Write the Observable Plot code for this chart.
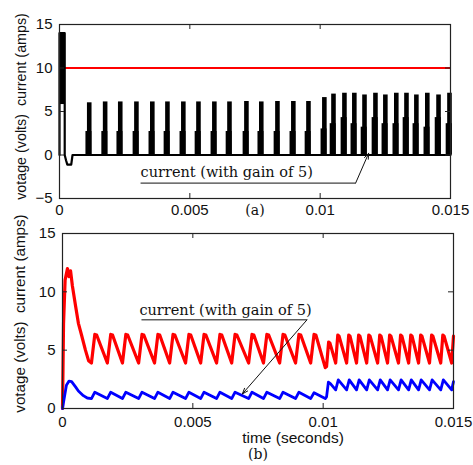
<!DOCTYPE html>
<html><head><meta charset="utf-8">
<script src="https://cdn.jsdelivr.net/npm/d3@7"></script>
<script src="https://cdn.jsdelivr.net/npm/@observablehq/plot@0.6"></script>
<style>
html,body{margin:0;padding:0;background:#fff;}
#chart svg{display:block;}
</style></head><body><div id="chart"></div>
<script>
// ---------- data ----------
const xTicks = [0, 0.005, 0.01, 0.015];
const xTickLabels = ["0", "0.005", "0.01", "0.015"];
const yTicksA = [-5, 0, 5, 10, 15];
const yTicksB = [0, 5, 10, 15];
const yLabel = "votage (volts)  current (amps)";
const xLabelB = "time (seconds)";
const panelA = "(a)";
const panelB = "(b)";
const annLabel = "current (with gain of 5)";

// panel (a): voltage reference level (red)
const refLevel = [10];
// panel (a): current pulses (black)
const pulseT = [0.00111, 0.00172, 0.00230, 0.00292, 0.00353, 0.00411, 0.00472, 0.00530, 0.00591, 0.00649,
  0.00714, 0.00771, 0.00833, 0.00894, 0.00952, 0.01013, 0.01048, 0.01090, 0.01128, 0.01167,
  0.01209, 0.01247, 0.01289, 0.01328, 0.01366, 0.01408, 0.01451, 0.01493];
const pulseH = [6.0, 6.1, 6.1, 6.1, 6.1, 6.1, 6.1, 6.1, 6.1, 6.1,
  6.15, 6.1, 6.15, 6.15, 6.15, 6.6, 7.0, 7.1, 7.1, 6.9,
  7.1, 6.9, 7.1, 7.1, 6.9, 7.1, 6.9, 7.1];
const pulseStep = [2.7, 2.7, 2.7, 2.7, 2.7, 2.7, 2.7, 2.7, 2.7, 2.7,
  2.7, 2.7, 2.7, 2.7, 2.7, 3.0, 3.6, 4.3, 3.6, 3.2,
  4.3, 3.6, 3.6, 4.3, 3.6, 3.2, 4.3, 3.6];
// panel (a): start-up spike and baseline of current
const spikeT = [0, 0, 0.0002, 0.0002, 0.00025, 0.0003, 0.00045, 0.0005, 0.015];
const spikeV = [0, 14, 14, 0, -0.6, -1.1, -1.1, 0, 0];
const spikeFillT = [0, 0.0002];
const spikeFillV = [5.8, 14];

// panel (b): voltage (red)
const redT = [0, 0.00002, 0.00004, 0.0001, 0.00019, 0.00025, 0.00031, 0.00038, 0.0005, 0.00061, 0.00073, 0.00088, 0.001, 0.00111,
  0.00124, 0.00131, 0.00172,
  0.00185, 0.00192, 0.0023,
  0.00243, 0.0025, 0.00292,
  0.00305, 0.00312, 0.00353,
  0.00366, 0.00373, 0.00411,
  0.00424, 0.00431, 0.00472,
  0.00485, 0.00492, 0.0053,
  0.00543, 0.0055, 0.00591,
  0.00604, 0.00611, 0.00649,
  0.00662, 0.00669, 0.00714,
  0.00727, 0.00734, 0.00771,
  0.00784, 0.00791, 0.00833,
  0.00846, 0.00853, 0.00894,
  0.00907, 0.00914, 0.00952,
  0.00965, 0.00972, 0.01008, 0.01013,
  0.01021, 0.01026, 0.01048,
  0.01056, 0.01061, 0.0109,
  0.01098, 0.01103, 0.01128,
  0.01136, 0.01141, 0.01167,
  0.01175, 0.0118, 0.01209,
  0.01217, 0.01222, 0.01247,
  0.01255, 0.0126, 0.01289,
  0.01297, 0.01302, 0.01328,
  0.01336, 0.01341, 0.01366,
  0.01374, 0.01379, 0.01408,
  0.01416, 0.01421, 0.01451,
  0.01459, 0.01464, 0.01493,
  0.015];
const redV = [0, 3.5, 7.3, 11.0, 12.0, 11.3, 11.8, 10.5, 8.8, 7.3, 6.3, 5.0, 4.1, 3.9,
  6.35, 6.3, 3.9,
  6.35, 6.3, 3.9,
  6.35, 6.3, 3.9,
  6.35, 6.3, 3.9,
  6.35, 6.3, 3.9,
  6.35, 6.3, 3.9,
  6.35, 6.3, 3.9,
  6.35, 6.3, 3.9,
  6.35, 6.3, 3.9,
  6.35, 6.3, 3.9,
  6.35, 6.3, 3.9,
  6.35, 6.3, 3.9,
  6.35, 6.3, 3.9,
  6.35, 6.3, 3.9,
  6.35, 6.3, 3.5, 3.6,
  5.7, 5.6, 3.9,
  6.3, 6.2, 3.9,
  6.3, 6.2, 3.9,
  6.3, 6.2, 3.9,
  6.3, 6.2, 3.9,
  6.3, 6.2, 3.9,
  6.3, 6.2, 3.9,
  6.3, 6.2, 3.9,
  6.3, 6.2, 3.9,
  6.3, 6.2, 3.9,
  6.3, 6.2, 3.9,
  6.3, 6.2, 3.9,
  6.2];

// panel (b): current with gain of 5 (blue)
const blueT = [0, 0.00003, 0.00015, 0.00025, 0.00035, 0.0005, 0.00061, 0.0008, 0.00095, 0.00111,
  0.00124, 0.00172,
  0.00185, 0.0023,
  0.00243, 0.00292,
  0.00305, 0.00353,
  0.00366, 0.00411,
  0.00424, 0.00472,
  0.00485, 0.0053,
  0.00543, 0.00591,
  0.00604, 0.00649,
  0.00662, 0.00714,
  0.00727, 0.00771,
  0.00784, 0.00833,
  0.00846, 0.00894,
  0.00907, 0.00952,
  0.00965, 0.01008, 0.01013, 0.0102, 0.01027, 0.01048,
  0.01058, 0.0109,
  0.011, 0.01128,
  0.01138, 0.01167,
  0.01177, 0.01209,
  0.01219, 0.01247,
  0.01257, 0.01289,
  0.01299, 0.01328,
  0.01338, 0.01366,
  0.01376, 0.01408,
  0.01418, 0.01451,
  0.01461, 0.01493,
  0.015];
const blueV = [0, 0.4, 2.0, 2.35, 2.3, 1.85, 1.5, 1.1, 0.9, 0.85,
  1.4, 0.85,
  1.4, 0.85,
  1.4, 0.85,
  1.4, 0.85,
  1.4, 0.85,
  1.4, 0.85,
  1.4, 0.85,
  1.4, 0.85,
  1.4, 0.85,
  1.4, 0.85,
  1.4, 0.85,
  1.4, 0.85,
  1.4, 0.85,
  1.4, 0.85,
  1.35, 0.85, 1.0, 2.25, 2.15, 1.6,
  2.45, 1.6,
  2.45, 1.6,
  2.45, 1.6,
  2.45, 1.6,
  2.45, 1.6,
  2.45, 1.6,
  2.45, 1.6,
  2.45, 1.6,
  2.45, 1.6,
  2.45, 1.6,
  2.45, 1.6,
  2.3];

// annotations (data coordinates)
const annA = {tx: 0.00311, ty: -2.05, ux1: 0.00311, ux2: 0.01136, uy: -3.23, ax: 0.01186, ay: 0.2};
const annB = {tx: 0.00295, ty: 8.44, ux1: 0.00303, ux2: 0.00938, uy: 7.6, ax: 0.0069, ay: 1.25};

// ---------- build ----------
const pulses = pulseT.map((t, i) => ({t, h: pulseH[i], s: pulseStep[i]}));
const spike = spikeT.map((t, i) => ({t, v: spikeV[i]}));
const red = redT.map((t, i) => ({t, v: redV[i]}));
const blue = blueT.map((t, i) => ({t, v: blueV[i]}));
const fmtX = d => xTickLabels[xTicks.indexOf(d)];

const sans = "'Liberation Sans', Arial, sans-serif";
const serif = "'DejaVu Serif', serif";

function innerTicks(yTicks, fw, fh) {
  return [
    Plot.tickX(xTicks, {x: d => d, insetTop: fh - 5, stroke: "#222"}),
    Plot.tickX(xTicks, {x: d => d, insetBottom: fh - 5, stroke: "#222"}),
    Plot.tickY(yTicks, {y: d => d, insetRight: fw - 5, stroke: "#222"}),
    Plot.tickY(yTicks, {y: d => d, insetLeft: fw - 5, stroke: "#222"})
  ];
}

function annotation(a) {
  return [
    Plot.text([annLabel], {x: a.tx, y: a.ty, text: d => d, textAnchor: "start", lineAnchor: "middle", fontFamily: serif, fontSize: 14.5, fill: "#111"}),
    Plot.link([a], {x1: "ux1", x2: "ux2", y1: "uy", y2: "uy", stroke: "#111", strokeWidth: 1}),
    Plot.arrow([a], {x1: "ux2", y1: "uy", x2: "ax", y2: "ay", stroke: "#111", strokeWidth: 1, headLength: 9, headAngle: 40})
  ];
}

const plotA = Plot.plot({
  width: 473, height: 225,
  marginLeft: 59, marginRight: 23, marginTop: 24, marginBottom: 27,
  style: {fontFamily: sans, fontSize: "15px", background: "#fff", color: "#111", overflow: "visible"},
  x: {domain: [0, 0.015], label: null},
  y: {domain: [-5, 15], label: null},
  marks: [
    Plot.ruleY(refLevel, {stroke: "#ff0000", strokeWidth: 2.2}),
    Plot.rect([0], {x1: () => spikeFillT[0], x2: () => spikeFillT[1], y1: () => spikeFillV[0], y2: () => spikeFillV[1], fill: "#000"}),
    Plot.line(spike, {x: "t", y: "v", stroke: "#000", strokeWidth: 2.2}),
    Plot.ruleX(pulses, {x: "t", y1: 0, y2: "s", stroke: "#000", strokeWidth: 6, dx: 0}),
    Plot.ruleX(pulses, {x: "t", y1: 0, y2: "h", stroke: "#000", strokeWidth: 4.6, dx: 0.8}),
    Plot.frame({stroke: "#222", strokeWidth: 1.2}),
    ...innerTicks(yTicksA, 391, 174),
    Plot.axisX({ticks: xTicks, tickFormat: fmtX, tickSize: 0, tickPadding: 6, label: null}),
    Plot.axisY({ticks: yTicksA, tickSize: 0, tickPadding: 7, label: null}),
    Plot.text([yLabel], {frameAnchor: "left", text: d => d, textAnchor: "middle", lineAnchor: "middle", rotate: -90, dx: -38, dy: -5, fontSize: 14.3, fill: "#111"}),
    Plot.text([panelA], {frameAnchor: "bottom", text: d => d, dy: 16, fontFamily: serif, fontSize: 14, fill: "#111"}),
    ...annotation(annA)
  ]
});

const plotB = Plot.plot({
  width: 473, height: 240,
  marginLeft: 62, marginRight: 20, marginTop: 8, marginBottom: 57,
  style: {fontFamily: sans, fontSize: "15px", background: "transparent", color: "#111", overflow: "visible"},
  x: {domain: [0, 0.015], label: null},
  y: {domain: [0, 15], label: null},
  marks: [
    Plot.line(red, {x: "t", y: "v", stroke: "#ff0000", strokeWidth: 3.2}),
    Plot.line(blue, {x: "t", y: "v", stroke: "#0000ff", strokeWidth: 2.8}),
    Plot.frame({stroke: "#222", strokeWidth: 1.2}),
    ...innerTicks(yTicksB, 391, 175),
    Plot.axisX({ticks: xTicks, tickFormat: fmtX, tickSize: 0, tickPadding: 8, label: null}),
    Plot.axisY({ticks: yTicksB, tickSize: 0, tickPadding: 7, label: null}),
    Plot.text([yLabel], {frameAnchor: "left", text: d => d, textAnchor: "middle", lineAnchor: "middle", rotate: -90, dx: -42, dy: -7.5, fontSize: 15.2, fill: "#111"}),
    Plot.text([xLabelB], {frameAnchor: "bottom", text: d => d, dx: 35, dy: 34, fontSize: 15.5, fill: "#111"}),
    Plot.text([panelB], {frameAnchor: "bottom", text: d => d, dy: 50, fontFamily: serif, fontSize: 14, fill: "#111"}),
    ...annotation(annB)
  ]
});

const el = document.getElementById("chart");
el.appendChild(plotA);
el.appendChild(plotB);
</script></body></html>
